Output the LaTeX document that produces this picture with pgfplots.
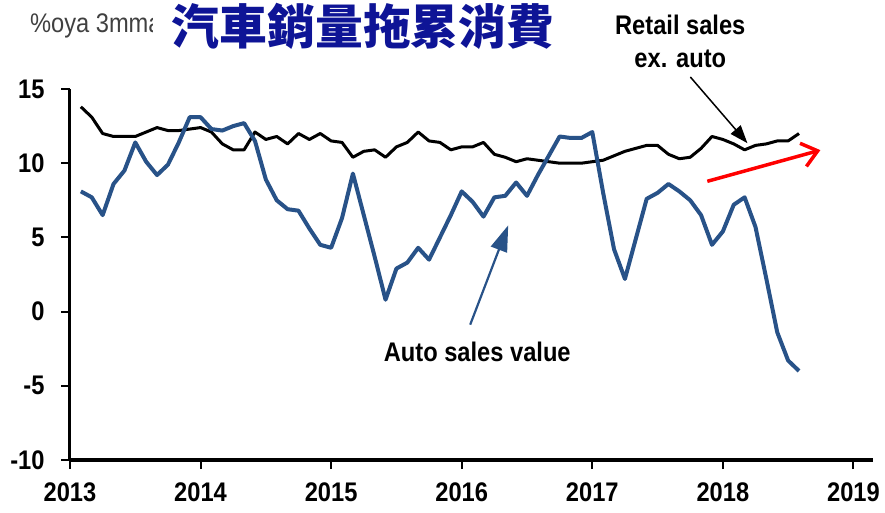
\documentclass[border=0pt]{standalone}
\usepackage{pgfplots}
\pgfplotsset{compat=1.18}
\usepackage{pgfplotstable}
\usetikzlibrary{arrows.meta}
\usepackage{fontspec}
\setmainfont{Liberation Sans}[FakeStretch=0.88]
\newfontfamily\cjk{Noto Sans CJK TC}
\definecolor{autoblue}{RGB}{40,82,136}
\definecolor{titlenavy}{RGB}{14,20,150}
\newcommand\tickfont{\fontsize{27}{30}\selectfont\bfseries}

\pgfplotstableread{
x y
2013.0833 8.1
2013.1667 7.7
2013.25 6.5
2013.3333 8.6
2013.4167 9.5
2013.5 11.4
2013.5833 10.1
2013.6667 9.2
2013.75 9.9
2013.8333 11.4
2013.9167 13.1
2014.0 13.1
2014.0833 12.3
2014.1667 12.2
2014.25 12.5
2014.3333 12.7
2014.4167 11.5
2014.5 8.9
2014.5833 7.5
2014.6667 6.9
2014.75 6.8
2014.8333 5.6
2014.9167 4.5
2015.0 4.3
2015.0833 6.3
2015.1667 9.3
2015.25 6.5
2015.3333 3.7
2015.4167 0.8
2015.5 2.9
2015.5833 3.3
2015.6667 4.3
2015.75 3.5
2015.8333 5.0
2015.9167 6.5
2016.0 8.1
2016.0833 7.4
2016.1667 6.4
2016.25 7.7
2016.3333 7.8
2016.4167 8.7
2016.5 7.8
2016.5833 9.2
2016.6667 10.5
2016.75 11.8
2016.8333 11.7
2016.9167 11.7
2017.0 12.1
2017.0833 8.0
2017.1667 4.2
2017.25 2.2
2017.3333 4.9
2017.4167 7.6
2017.5 8.0
2017.5833 8.6
2017.6667 8.1
2017.75 7.5
2017.8333 6.5
2017.9167 4.5
2018.0 5.4
2018.0833 7.2
2018.1667 7.7
2018.25 5.7
2018.3333 2.2
2018.4167 -1.4
2018.5 -3.3
2018.5833 -4.0
}\autotable

\pgfplotstableread{
x y
2013.0833 13.8
2013.1667 13.1
2013.25 12.0
2013.3333 11.8
2013.4167 11.8
2013.5 11.8
2013.5833 12.1
2013.6667 12.4
2013.75 12.2
2013.8333 12.2
2013.9167 12.3
2014.0 12.4
2014.0833 12.1
2014.1667 11.3
2014.25 10.9
2014.3333 10.9
2014.4167 12.1
2014.5 11.6
2014.5833 11.8
2014.6667 11.3
2014.75 12.0
2014.8333 11.6
2014.9167 12.0
2015.0 11.5
2015.0833 11.4
2015.1667 10.4
2015.25 10.8
2015.3333 10.9
2015.4167 10.4
2015.5 11.1
2015.5833 11.4
2015.6667 12.1
2015.75 11.5
2015.8333 11.4
2015.9167 10.9
2016.0 11.1
2016.0833 11.1
2016.1667 11.4
2016.25 10.6
2016.3333 10.4
2016.4167 10.1
2016.5 10.3
2016.5833 10.2
2016.6667 10.1
2016.75 10.0
2016.8333 10.0
2016.9167 10.0
2017.0 10.1
2017.0833 10.2
2017.1667 10.5
2017.25 10.8
2017.3333 11.0
2017.4167 11.2
2017.5 11.2
2017.5833 10.6
2017.6667 10.3
2017.75 10.4
2017.8333 11.0
2017.9167 11.8
2018.0 11.6
2018.0833 11.3
2018.1667 10.9
2018.25 11.2
2018.3333 11.3
2018.4167 11.5
2018.5 11.5
2018.5833 12.0
}\retailtable

\begin{document}
\begin{tikzpicture}
\useasboundingbox (-70bp,-53bp) rectangle (815bp,460bp);
\begin{axis}[
  at={(0,0)}, anchor=south west,
  scale only axis, width=803bp, height=371bp,
  xmin=2013, xmax=2019.15, ymin=-10, ymax=15,
  axis lines=left,
  axis line style={-, black},
  x axis line style={line width=4bp},
  y axis line style={line width=3bp},
  xtick={2013,2014,2015,2016,2017,2018,2019},
  xticklabels={2013,2014,2015,2016,2017,2018,2019},
  ytick={-10,-5,0,5,10,15},
  yticklabels={-10,-5,0,5,10,15},
  tick align=outside,
  major tick length=9bp,
  tick style={black, line width=2bp},
  ticklabel style={font=\tickfont, text=black},
  yticklabel style={anchor=east, xshift=-13bp},
  xticklabel style={anchor=north, yshift=-10bp},
  clip=false,
]
\addplot[black, line width=3bp, line join=round] table[x=x,y=y] {\retailtable};
\addplot[autoblue, line width=4bp, line join=round] table[x=x,y=y] {\autotable};

\draw[black, line width=1.5bp, -{Triangle[length=18bp,width=13bp]}]
  (axis cs:2017.751,15.81) -- (axis cs:2018.188,11.35);
\draw[autoblue, line width=2.2bp, -{Triangle[length=26bp,width=17bp]}]
  (axis cs:2016.065,-0.88) -- (axis cs:2016.356,5.81);
\draw[red, line width=3.5bp, -{Straight Barb[length=15bp,width=24bp]}]
  (axis cs:2017.881,8.78) -- (axis cs:2018.747,10.88);

\node[font=\tickfont, align=center, inner sep=0pt] at (axis cs:2017.674,18.21) {Retail sales\\[4bp]ex. auto};
\node[font=\tickfont, inner sep=0pt] at (axis cs:2016.119,-2.70) {Auto sales value};

\node[font=\fontsize{27}{30}\selectfont, text={black!75}, anchor=west, inner sep=0pt] at (axis cs:2012.693,19.26) {\%oya 3mma};
\node[font=\cjk\bfseries\fontsize{48}{52}\selectfont, text=titlenavy, fill=white, inner xsep=19bp, inner ysep=2bp] at (axis cs:2015.245,19.19) {汽車銷量拖累消費};
\end{axis}
\end{tikzpicture}
\end{document}
